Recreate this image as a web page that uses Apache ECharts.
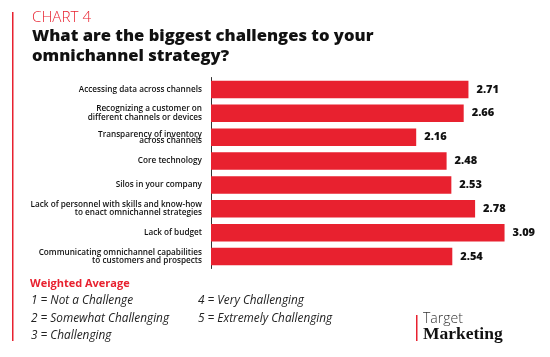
<!DOCTYPE html>
<html>
<head>
<meta charset="utf-8">
<script src="https://cdn.jsdelivr.net/npm/echarts@6/dist/echarts.min.js"></script>
<style>
html,body{margin:0;padding:0;background:#fff;}
#chart{width:550px;height:357px;}
</style>
</head>
<body>
<div id="chart"></div>
<script>
var categories = [
  'Accessing data across channels',
  'Recognizing a customer on\ndifferent channels or devices',
  'Transparency of inventory\nacross channels',
  'Core technology',
  'Silos in your company',
  'Lack of personnel with skills and know-how\nto enact omnichannel strategies',
  'Lack of budget',
  'Communicating omnichannel capabilities\nto customers and prospects'
];
var values = [2.71, 2.66, 2.16, 2.48, 2.53, 2.78, 3.09, 2.54];
var scaleLines = ['1 = Not a Challenge', '2 = Somewhat Challenging', '3 = Challenging', '4 = Very Challenging', '5 = Extremely Challenging'];

var RED = '#E8212F';
var FONT = 'Open Sans';
var chart = echarts.init(document.getElementById('chart'), null, {renderer: 'canvas'});

var catData = categories.map(function (c, i) {
  return i === 2 ? {value: c, textStyle: {lineHeight: 6}} : c;
});

var ital = 'italic 400 11.8px "Open Sans"';
var graphics = [
  {type: 'rect', shape: {x: 12, y: 12, width: 1.5, height: 329}, style: {fill: RED}},
  {type: 'text', left: 32, top: 10.5, style: {text: 'CHART 4', fill: RED, font: '300 15.2px "Open Sans"'}},
  {type: 'text', left: 32, top: 26, style: {text: 'What are the biggest challenges to your\nomnichannel strategy?', fill: '#111', font: '800 16.6px "Open Sans"', lineHeight: 20}},
  {type: 'text', left: 30, top: 278.5, style: {text: 'Weighted Average', fill: RED, font: '700 11px "Open Sans"'}},
  {type: 'text', left: 31, top: 295, style: {text: scaleLines[0], fill: '#222', font: ital}},
  {type: 'text', left: 31, top: 312.5, style: {text: scaleLines[1], fill: '#222', font: ital}},
  {type: 'text', left: 31, top: 330, style: {text: scaleLines[2], fill: '#222', font: ital}},
  {type: 'text', left: 198, top: 295, style: {text: scaleLines[3], fill: '#222', font: ital}},
  {type: 'text', left: 198, top: 312.5, style: {text: scaleLines[4], fill: '#222', font: ital}},
  {type: 'rect', shape: {x: 416, y: 315, width: 1.5, height: 26}, style: {fill: RED}},
  {type: 'text', left: 423, top: 312, style: {text: 'Target', fill: '#333', font: '300 14px "Open Sans"'}},
  {type: 'text', left: 423, top: 325, style: {text: 'Marketing', fill: '#111', font: '700 17.5px "Liberation Serif"'}}
];

chart.setOption({
  animation: false,
  backgroundColor: '#fff',
  grid: {left: 211, top: 77.5, height: 191, width: 304, containLabel: false},
  xAxis: {
    type: 'value', min: 0, max: 3.2, show: false
  },
  yAxis: {
    type: 'category', inverse: true, data: catData,
    axisLine: {show: true, lineStyle: {color: '#333', width: 1}},
    axisTick: {show: false},
    axisLabel: {color: '#111', fontFamily: FONT, fontSize: 8.2, fontWeight: 600, lineHeight: 8.5, margin: 9, align: 'right'}
  },
  series: [{
    type: 'bar', data: values, barWidth: 17.5,
    itemStyle: {color: RED},
    label: {show: true, position: 'right', distance: 8, color: '#111', fontFamily: FONT, fontWeight: 800, fontSize: 11,
      formatter: function (p) { return p.value.toFixed(2); }}
  }],
  graphic: graphics
});
</script>
</body>
</html>
